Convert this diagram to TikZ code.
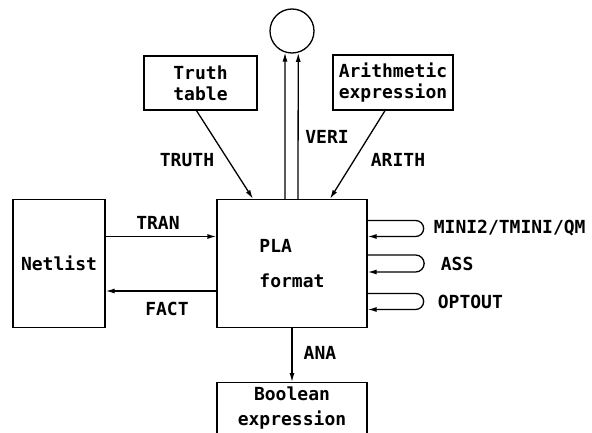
\documentclass[tikz,border=0pt]{standalone}
\usepackage{fontspec}
\setmonofont{DejaVu Sans Mono}
\usetikzlibrary{positioning,calc,arrows.meta}

\tikzset{
    blk/.style={draw, line width=1.3pt, align=center, inner sep=3pt,
        font=\ttfamily\bfseries\fontsize{18}{21}\selectfont},
    lbl/.style={font=\ttfamily\bfseries\fontsize{18}{21}\selectfont, inner sep=3pt},
    flow/.style={line width=1.3pt, -{Latex[length=9pt,width=5pt]}},
}

\begin{document}
\begin{tikzpicture}[x=1pt,y=-1pt]
    \useasboundingbox (0,0) rectangle (592,433);

    % PLA format block
    \node [blk, align=left, minimum width=150pt, minimum height=128pt] (pla) at (292,263.5)
        {PLA\\[14pt]format};

    % Sources on top
    \node [blk, minimum width=113pt, minimum height=54pt] (truth) at (200.5,83) {Truth\\table};
    \node [blk, minimum width=120pt, minimum height=55pt] (arith) at (393,82.5) {Arithmetic\\expression};
    \node [draw, circle, line width=1.3pt, minimum size=44pt, inner sep=0pt] (chk) at (292,31) {};

    \draw [flow] ($(truth.south)+(-4,0)$) -- ($(pla.north)+(-39,0)$);
    \draw [flow] ($(arith.south)+(-8,0)$) -- ($(pla.north)+(38,0)$);
    \draw [flow] ($(pla.north)+(-7,0)$) -- (chk.-108);
    \draw [flow] ($(pla.north)+(6,0)$) -- (chk.-74);
    \node [lbl] (truthlbl) at (187,160) {TRUTH};
    \node [lbl] (verilbl) at (327,137) {VERI};
    \node [lbl] (arithlbl) at (398,160) {ARITH};

    % Netlist on the left
    \node [blk, minimum width=92pt, minimum height=128pt] (net) at (59,263.5) {Netlist};
    \draw [flow] ($(net.east)+(0,-27)$) -- ($(pla.west)+(0,-27)$);
    \draw [flow] ($(pla.west)+(0,27.5)$) -- ($(net.east)+(0,27.5)$);
    \node [lbl] (tranlbl) at (158,223) {TRAN};
    \node [lbl] (factlbl) at (167,309) {FACT};

    % Loops on the right
    \draw [flow] ($(pla.east)+(0,-43)$) -- ++(48,0) arc [start angle=90, end angle=-90, radius=8pt]
        -- ($(pla.east)+(0,-27)$);
    \draw [flow] ($(pla.east)+(0,-8.5)$) -- ++(48,0) arc [start angle=90, end angle=-90, radius=8.5pt]
        -- ($(pla.east)+(0,8.5)$);
    \draw [flow] ($(pla.east)+(0,30)$) -- ++(48,0) arc [start angle=90, end angle=-90, radius=8pt]
        -- ($(pla.east)+(0,46)$);
    \node [lbl, anchor=west] (minilbl) at ($(pla.east)+(63,-35)$) {MINI2/TMINI/QM};
    \node [lbl, anchor=west] (asslbl) at ($(pla.east)+(70,0)$) {ASS};
    \node [lbl, anchor=west] (optlbl) at ($(pla.east)+(67,38)$) {OPTOUT};

    % Boolean expression below
    \node [blk, minimum width=150pt, anchor=north, inner ysep=4.5pt, text depth=44pt] (bool) at (292,382)
        {Boolean\\[4pt]expression};
    \draw [flow] (pla.south) -- (bool.north);
    \node [lbl] (analbl) at (320,353) {ANA};
\end{tikzpicture}
\end{document}
